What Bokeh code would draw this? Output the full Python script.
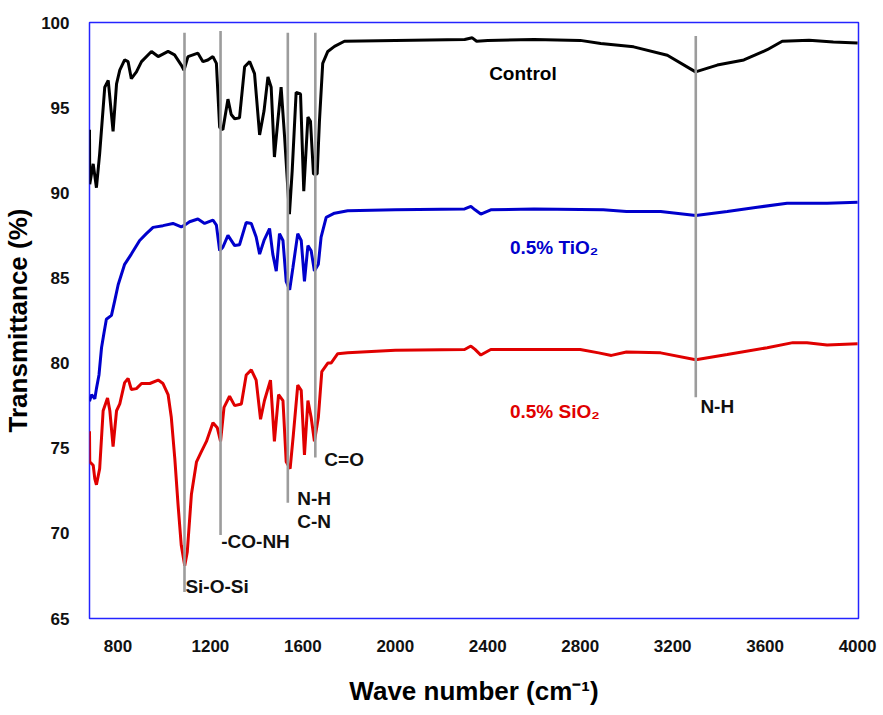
from bokeh.plotting import figure
from bokeh.models import Range1d, FixedTicker, ColumnDataSource
from bokeh.core.properties import value
from bokeh.embed import file_html
from bokeh.resources import INLINE

# ---------------- data ----------------
control_x = [677, 678, 693, 707, 721, 743, 758, 779, 794, 808, 829, 844, 858, 880, 902, 945, 974,
             1017, 1045, 1074, 1086, 1103, 1146, 1168, 1189, 1211, 1226, 1240, 1254, 1276, 1290,
             1305, 1326, 1348, 1370, 1391, 1413, 1432, 1449, 1463, 1477, 1492, 1506, 1521, 1542,
             1554, 1571, 1590, 1604, 1622, 1633, 1646, 1662, 1672, 1686, 1708, 1737, 1780, 2000,
             2300, 2333, 2352, 2400, 2600, 2800, 2889, 3031, 3177, 3299, 3393, 3508, 3609, 3674,
             3790, 3895, 4000]
control_y = [93.7, 90.5, 91.7, 90.3, 92.3, 96.2, 96.6, 93.6, 96.4, 97.2, 97.8, 97.7, 96.7, 97.1,
             97.7, 98.3, 98.0, 98.3, 98.1, 97.5, 97.2, 98.0, 98.2, 97.7, 97.8, 98.0, 97.6, 93.85,
             93.7, 95.5, 94.6, 94.35, 94.4, 97.4, 97.7, 97.0, 93.4, 94.8, 96.8, 96.2, 92.1, 94.25,
             96.2, 93.3, 88.75, 91.3, 95.9, 95.8, 90.1, 94.45, 94.2, 91.1, 91.1, 94.25, 97.6, 98.3,
             98.6, 98.9, 98.95, 99.0, 99.1, 98.9, 98.95, 99.0, 98.95, 98.77, 98.57, 98.08, 97.1,
             97.5, 97.8, 98.4, 98.9, 98.96, 98.85, 98.8]

tio2_x = [677, 686, 700, 707, 718, 729, 740, 750, 772, 786, 801, 829, 858, 894, 923, 952, 995,
          1038, 1074, 1089, 1110, 1146, 1175, 1211, 1226, 1240, 1254, 1276, 1305, 1326, 1355,
          1377, 1398, 1413, 1432, 1456, 1470, 1485, 1499, 1514, 1528, 1543, 1557, 1578, 1593,
          1607, 1622, 1636, 1650, 1667, 1679, 1701, 1737, 1794, 2000, 2300, 2327, 2345, 2370,
          2413, 2600, 2900, 3000, 3148, 3300, 3436, 3566, 3695, 3868, 4000]
tio2_y = [77.76, 78.15, 77.9, 78.5, 79.3, 80.9, 81.8, 82.57, 82.8, 83.65, 84.6, 85.8, 86.4, 87.2,
          87.6, 87.97, 88.07, 88.2, 88.0, 88.1, 88.3, 88.46, 88.2, 88.4, 88.1, 86.6, 86.8, 87.5,
          86.9, 86.95, 88.26, 88.2, 87.4, 86.4, 87.2, 87.9, 86.4, 85.4, 87.6, 87.2, 84.8, 84.3,
          85.6, 87.6, 87.2, 84.8, 86.9, 86.6, 85.4, 85.8, 87.4, 88.56, 88.8, 88.95, 89.0, 89.05,
          89.2, 89.0, 88.75, 89.0, 89.05, 89.0, 88.9, 88.9, 88.66, 88.9, 89.15, 89.38, 89.38,
          89.44]

sio2_x = [677, 678, 693, 700, 707, 721, 736, 755, 765, 779, 794, 808, 829, 844, 858, 880, 902,
          938, 974, 995, 1017, 1031, 1046, 1060, 1074, 1089, 1100, 1118, 1140, 1161, 1183, 1211,
          1230, 1244, 1259, 1283, 1305, 1334, 1355, 1377, 1398, 1417, 1434, 1460, 1477, 1495,
          1514, 1528, 1545, 1559, 1578, 1593, 1607, 1622, 1636, 1650, 1667, 1682, 1708, 1722,
          1751, 1794, 2000, 2300, 2327, 2345, 2370, 2413, 2600, 2800, 2880, 2935, 3000, 3148,
          3300, 3436, 3609, 3720, 3781, 3868, 4000]
sio2_y = [75.99, 74.2, 74.0, 73.2, 72.85, 73.8, 77.2, 77.95, 77.2, 75.1, 77.2, 77.6, 78.85, 79.1,
          78.45, 78.5, 78.8, 78.8, 79.0, 78.8, 78.15, 76.8, 74.4, 71.7, 69.3, 68.1, 68.9, 72.3,
          74.2, 74.8, 75.4, 76.5, 76.2, 75.4, 77.4, 78.05, 77.5, 77.6, 79.3, 79.6, 79.0, 76.7,
          77.8, 79.0, 75.4, 78.15, 77.8, 74.2, 73.8, 75.8, 78.7, 78.4, 74.6, 77.8, 76.8, 75.4,
          76.8, 79.5, 80.0, 80.0, 80.55, 80.6, 80.75, 80.8, 81.0, 80.8, 80.47, 80.8, 80.8, 80.8,
          80.6, 80.45, 80.65, 80.6, 80.2, 80.5, 80.9, 81.2, 81.2, 81.06, 81.13]

series_names = ["Control", "0.5% TiO\u2082", "0.5% SiO\u2082"]

# band assignments: wavenumber, line top, line bottom
band_x = [1088, 1244, 1535, 1654, 3300]
band_top = [99.4, 99.5, 99.4, 99.4, 99.2]
band_bottom = [66.55, 69.9, 71.8, 74.45, 78.0]

band_labels = ["Si-O-Si", "-CO-NH", "N-H", "C-N", "C=O", "N-H"]

x_ticks = [800, 1200, 1600, 2000, 2400, 2800, 3200, 3600, 4000]
y_ticks = [65, 70, 75, 80, 85, 90, 95, 100]

# ---------------- placement of the texts ----------------
band_label_x = [1092, 1247, 1576, 1576, 1693, 3320]
band_label_y = [66.9, 69.5, 72.07, 70.7, 74.33, 77.47]
series_label_x = [2406, 2496, 2496]
series_label_y = [97.03, 86.8, 77.13]

FONT = "Liberation Sans"
BLACK = "#000000"
BLUE = "#0000cc"
RED = "#e00000"
GRAY = "#9c9c9c"

p = figure(width=883, height=715,
           x_range=Range1d(677, 4004), y_range=Range1d(65, 100),
           output_backend="svg", toolbar_location=None,
           min_border_left=88, min_border_right=25,
           min_border_top=22, min_border_bottom=97)

p.background_fill_color = "white"
p.border_fill_color = "white"
p.outline_line_color = "#2424ff"
p.outline_line_width = 1.5
p.xgrid.visible = False
p.ygrid.visible = False

for ax in (p.xaxis[0], p.yaxis[0]):
    ax.axis_line_color = None
    ax.major_tick_line_color = None
    ax.minor_tick_line_color = None
    ax.major_label_text_font = FONT
    ax.major_label_text_font_style = "bold"
    ax.major_label_text_font_size = "17px"
    ax.major_label_text_color = "#111111"
    ax.axis_label_text_font = FONT
    ax.axis_label_text_font_style = "bold"
    ax.axis_label_text_color = "#000000"

p.xaxis[0].ticker = FixedTicker(ticks=x_ticks)
p.yaxis[0].ticker = FixedTicker(ticks=y_ticks)
p.xaxis[0].axis_label = "Wave number (cm\u207b\u00b9)"
p.yaxis[0].axis_label = "Transmittance (%)"
p.xaxis[0].axis_label_text_font_size = "26px"
p.yaxis[0].axis_label_text_font_size = "26px"
p.xaxis[0].major_label_standoff = 15
p.yaxis[0].major_label_standoff = 14
p.xaxis[0].axis_label_standoff = 21
p.yaxis[0].axis_label_standoff = 5

# spectra
p.line(control_x, control_y, line_color=BLACK, line_width=3)
p.line(tio2_x, tio2_y, line_color=BLUE, line_width=3)
p.line(sio2_x, sio2_y, line_color=RED, line_width=3)

# band marker lines
p.segment(x0=band_x, y0=band_bottom, x1=band_x, y1=band_top,
          line_color=GRAY, line_width=2.6)

# band labels
p.text(x=band_label_x, y=band_label_y, text=band_labels,
       text_font=value(FONT), text_font_style="bold", text_font_size="19px",
       text_color="#111111", text_align="left", text_baseline="middle")

# series labels
src = ColumnDataSource(dict(x=series_label_x, y=series_label_y, t=series_names,
                            c=[BLACK, BLUE, RED]))
p.text(x="x", y="y", text="t", text_color="c", source=src,
       text_font=value(FONT), text_font_style="bold", text_font_size="19px",
       text_align="left", text_baseline="middle")

open("out.html", "w").write(file_html(p, INLINE))
